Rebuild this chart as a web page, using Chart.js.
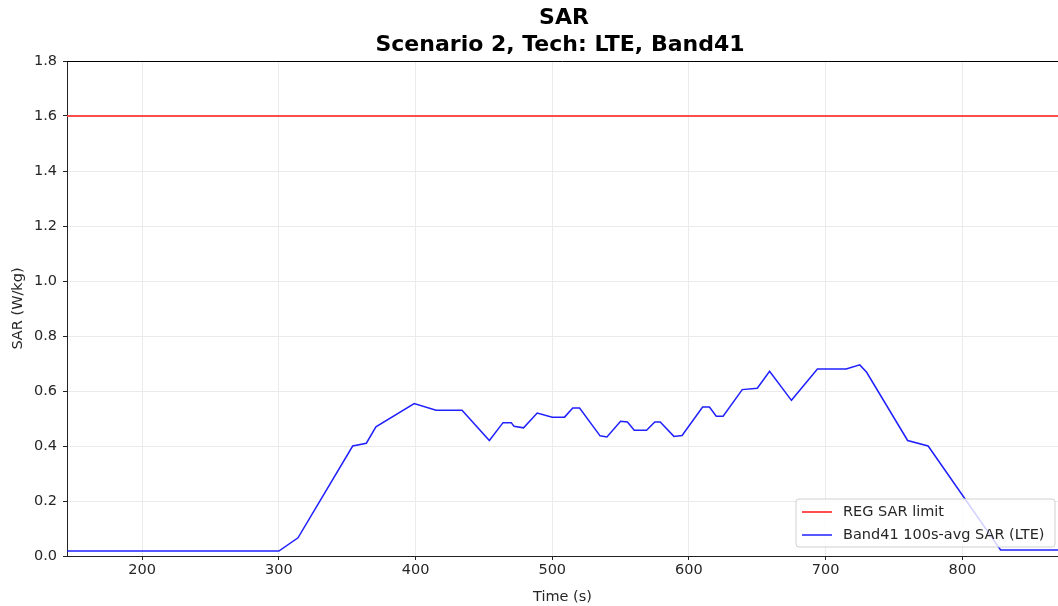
<!DOCTYPE html>
<html>
<head>
<meta charset="utf-8">
<title>SAR – Scenario 2, Tech: LTE, Band41</title>
<script src="https://cdn.jsdelivr.net/npm/chart.js@4/dist/chart.umd.min.js"></script>
<style>
  html, body { margin: 0; padding: 0; background: #fff; }
  #wrap { width: 1058px; height: 606px; }
</style>
</head>
<body>
<div id="wrap"><canvas id="c" width="1058" height="606"></canvas></div>
<script>
// Time stamps (s) of the 100 s averaged SAR trace
const times = [145, 300, 314, 354, 364, 371, 399, 415, 434, 454, 464, 470, 472, 479, 489, 500, 509, 515, 520, 535, 540, 550, 555, 560, 569, 575, 579, 589, 595, 610, 615, 620, 625, 639, 650, 659, 675, 694, 715, 725, 730, 760, 775, 828, 870];
// Band41 100s-avg SAR (W/kg)
const sarValues = [0.018, 0.018, 0.066, 0.400, 0.410, 0.470, 0.554, 0.530, 0.530, 0.420, 0.485, 0.485, 0.472, 0.466, 0.520, 0.505, 0.505, 0.538, 0.538, 0.437, 0.433, 0.490, 0.487, 0.457, 0.457, 0.487, 0.487, 0.435, 0.438, 0.542, 0.542, 0.508, 0.508, 0.605, 0.610, 0.672, 0.566, 0.680, 0.680, 0.695, 0.668, 0.420, 0.400, 0.022, 0.022];
// Regulatory limit (W/kg)
const regLimit = 1.6;
const xRange = [145, 870];
const yRange = [0, 1.8];
const xTicks = [200, 300, 400, 500, 600, 700, 800];
const yTicks = [0.0, 0.2, 0.4, 0.6, 0.8, 1.0, 1.2, 1.4, 1.6, 1.8];
const titleLines = ['SAR', 'Scenario 2, Tech: LTE, Band41'];
const seriesLabels = ['REG SAR limit', 'Band41 100s-avg SAR (LTE)'];

const FONT = "'DejaVu Sans', sans-serif";
const TXT = '#262626';
const FS = 14.5;

const tracePoints = times.map((t, i) => ({ x: t, y: sarValues[i] }));
const limitPoints = [{ x: xRange[0], y: regLimit }, { x: xRange[1], y: regLimit }];

// Title, top spine and in-plot legend
const decorations = {
  id: 'decorations',
  afterDraw(chart) {
    const { ctx, chartArea: a } = chart;
    ctx.save();
    ctx.fillStyle = '#000';
    ctx.textAlign = 'center';
    ctx.textBaseline = 'middle';
    ctx.font = 'bold 22px ' + FONT;
    ctx.fillText(titleLines[0], 564, 18);
    ctx.fillText(titleLines[1], 560, 45);

    // top spine
    ctx.strokeStyle = '#000';
    ctx.lineWidth = 1;
    ctx.beginPath();
    ctx.moveTo(a.left, a.top + 0.5);
    ctx.lineTo(a.right, a.top + 0.5);
    ctx.stroke();

    // legend
    const bx = 796, by = 499, bw = 259, bh = 48, r = 3;
    ctx.fillStyle = 'rgba(255,255,255,0.8)';
    ctx.strokeStyle = '#d0d0d0';
    ctx.beginPath();
    ctx.moveTo(bx + r, by);
    ctx.lineTo(bx + bw - r, by);
    ctx.quadraticCurveTo(bx + bw, by, bx + bw, by + r);
    ctx.lineTo(bx + bw, by + bh - r);
    ctx.quadraticCurveTo(bx + bw, by + bh, bx + bw - r, by + bh);
    ctx.lineTo(bx + r, by + bh);
    ctx.quadraticCurveTo(bx, by + bh, bx, by + bh - r);
    ctx.lineTo(bx, by + r);
    ctx.quadraticCurveTo(bx, by, bx + r, by);
    ctx.closePath();
    ctx.fill();
    ctx.stroke();

    ctx.textAlign = 'left';
    ctx.font = FS + 'px ' + FONT;
    chart.data.datasets.forEach((ds, i) => {
      const y = by + 13 + i * 23;
      ctx.strokeStyle = ds.borderColor;
      ctx.lineWidth = ds.borderWidth;
      ctx.beginPath();
      ctx.moveTo(802, y);
      ctx.lineTo(832, y);
      ctx.stroke();
      ctx.fillStyle = TXT;
      ctx.fillText(ds.label, 843, y);
    });
    ctx.restore();
  }
};

new Chart(document.getElementById('c'), {
  type: 'line',
  data: {
    datasets: [
      {
        label: seriesLabels[0],
        data: limitPoints,
        borderColor: 'rgba(255,60,60,0.9)',
        borderWidth: 2,
        pointRadius: 0,
        tension: 0
      },
      {
        label: seriesLabels[1],
        data: tracePoints,
        borderColor: 'rgba(20,20,255,0.95)',
        borderWidth: 1.5,
        pointRadius: 0,
        tension: 0
      }
    ]
  },
  options: {
    responsive: false,
    animation: false,
    events: [],
    layout: { padding: { top: 61, right: 0, left: 0, bottom: 0 } },
    plugins: {
      legend: { display: false },
      title: { display: false },
      tooltip: { enabled: false }
    },
    scales: {
      x: {
        type: 'linear',
        min: xRange[0],
        max: xRange[1],
        afterBuildTicks(scale) { scale.ticks = xTicks.map(v => ({ value: v })); },
        afterFit(scale) { scale.height = 50; },
        grid: {
          color: '#ebebeb',
          lineWidth: 1,
          drawTicks: true,
          tickLength: 4,
          tickColor: '#222'
        },
        border: { display: true, color: '#222', width: 1 },
        ticks: {
          color: TXT,
          font: { family: FONT, size: FS },
          padding: 2,
          maxRotation: 0,
          callback: v => String(v)
        },
        title: {
          display: true,
          text: 'Time (s)',
          color: TXT,
          font: { family: FONT, size: FS },
          padding: { top: 0, bottom: 0 }
        }
      },
      y: {
        min: yRange[0],
        max: yRange[1],
        afterBuildTicks(scale) { scale.ticks = yTicks.map(v => ({ value: v })); },
        afterFit(scale) { scale.width = 67; },
        grid: {
          color: '#ebebeb',
          lineWidth: 1,
          drawTicks: true,
          tickLength: 4,
          tickColor: '#222'
        },
        border: { display: true, color: '#222', width: 1 },
        ticks: {
          color: TXT,
          font: { family: FONT, size: FS },
          padding: 6,
          callback: v => Number(v).toFixed(1)
        },
        title: {
          display: true,
          text: 'SAR (W/kg)',
          color: TXT,
          font: { family: FONT, size: FS },
          padding: { top: 10, bottom: 4 }
        }
      }
    }
  },
  plugins: [decorations]
});
</script>
</body>
</html>
